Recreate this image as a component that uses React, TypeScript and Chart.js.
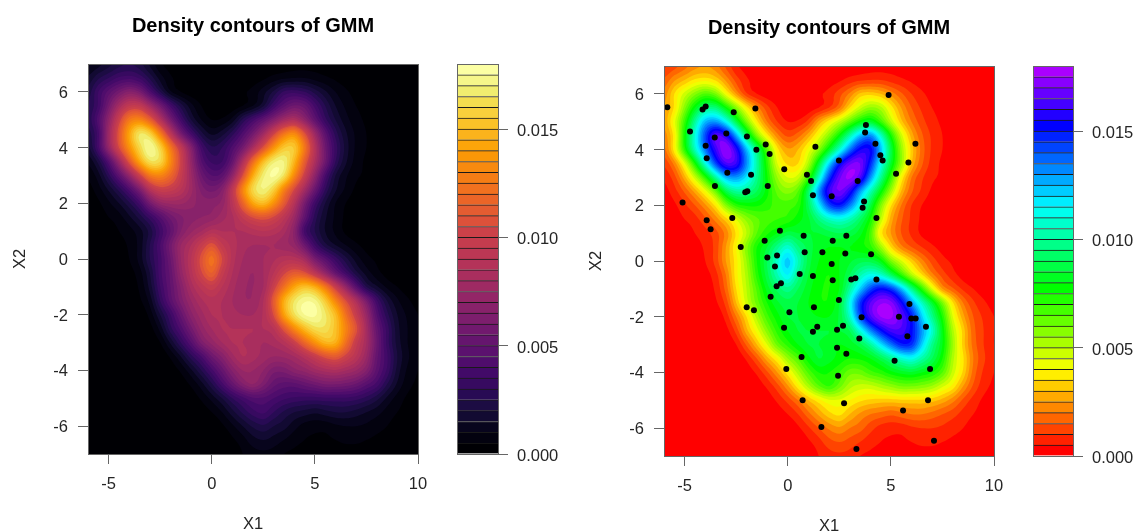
import React, { useEffect, useRef } from "react";
import { Chart, registerables } from "chart.js";

Chart.register(...registerables);

const chartTitle = "Density contours of GMM";
const xTicks = [-5, 0, 5, 10];
const yTicks = [-6, -4, -2, 0, 2, 4, 6];
const barTicks = [0, 0.005, 0.01, 0.015];
const bandStep = 0.0005;
const gridX = [-6, -5.5, -5, -4.5, -4, -3.5, -3, -2.5, -2, -1.5, -1, -0.5, 0, 0.5, 1, 1.5, 2, 2.5, 3, 3.5, 4, 4.5, 5, 5.5, 6, 6.5, 7, 7.5, 8, 8.5, 9, 9.5, 10];
const gridY = [7, 6.5, 6, 5.5, 5, 4.5, 4, 3.5, 3, 2.5, 2, 1.5, 1, 0.5, 0, -0.5, -1, -1.5, -2, -2.5, -3, -3.5, -4, -4.5, -5, -5.5, -6, -6.5, -7];

// density, in units of 0.0001, one row per gridY value
const densityRows = [
  [9,13,18,23,25,22,14,6,3,1,0,0,0,0,0,0,0,0,1,2,3,3,3,2,1,0,0,0,0,0,0,0,0],
  [16,24,30,36,38,34,24,13,6,3,1,0,0,0,1,1,2,4,7,9,10,10,8,6,4,2,1,0,0,0,0,0,0],
  [22,35,47,58,66,60,42,25,11,5,2,1,0,0,2,4,7,13,21,31,33,30,23,16,10,6,3,1,0,0,0,0,0],
  [25,36,58,80,95,95,78,58,38,23,12,5,1,0,2,5,10,19,35,48,56,52,38,25,15,9,5,3,1,0,0,0,0],
  [26,43,70,100,125,130,115,88,60,37,20,10,5,6,12,26,38,50,64,78,84,70,50,32,20,12,7,4,2,1,0,0,0],
  [22,38,76,110,142,165,158,128,92,60,38,22,14,18,28,42,58,78,102,124,132,108,76,48,28,16,9,5,2,1,0,0,0],
  [18,38,72,105,135,160,175,158,125,95,65,37,26,30,42,58,82,108,135,154,154,125,88,56,33,18,9,5,2,1,0,0,0],
  [11,22,44,75,110,142,163,160,132,102,72,45,34,35,52,84,120,150,168,170,148,114,84,56,30,16,8,4,2,1,0,0,0],
  [6,13,28,48,72,100,125,130,118,98,76,55,45,48,70,106,144,168,176,164,132,100,70,40,20,11,6,4,1,0,0,0,0],
  [3,8,16,27,42,62,88,100,98,90,77,63,58,65,92,130,160,170,158,130,105,80,54,30,16,9,4,2,1,0,0,0,0],
  [1,4,9,15,24,37,58,72,76,76,72,68,68,72,90,116,142,150,135,112,88,60,36,20,10,5,2,1,0,0,0,0,0],
  [0,2,5,8,14,22,33,45,57,64,68,70,72,78,84,96,106,110,104,92,76,50,28,16,9,4,2,1,0,0,0,0,0],
  [0,1,2,5,8,13,22,36,50,65,74,80,87,85,85,85,88,90,88,82,68,38,25,15,9,4,2,1,0,0,0,0,0],
  [0,0,1,3,6,12,25,40,58,75,85,98,108,96,88,82,80,80,80,77,72,55,35,22,15,10,6,3,1,0,0,0,0],
  [0,0,0,2,5,12,25,38,55,75,90,108,122,105,88,80,78,80,84,88,88,80,60,46,33,22,13,7,4,2,1,0,0],
  [0,0,0,1,3,8,20,38,52,72,88,104,115,98,85,78,75,80,90,103,112,108,92,72,52,36,22,13,7,3,1,0,0],
  [0,0,0,0,2,6,17,35,50,66,82,92,98,90,82,76,75,80,100,122,142,152,145,125,98,72,46,25,16,9,5,2,1],
  [0,0,0,0,1,4,12,30,47,62,75,84,88,85,80,76,76,85,112,145,165,174,172,155,130,106,84,60,36,20,11,6,3],
  [0,0,0,0,0,1,7,20,35,52,68,78,85,85,82,80,80,86,106,140,163,175,176,166,150,122,98,74,45,27,15,9,5],
  [0,0,0,0,0,0,3,12,28,42,58,72,80,85,85,85,85,85,90,110,132,150,162,163,152,130,108,80,52,33,17,10,5],
  [0,0,0,0,0,0,1,5,16,30,45,62,72,80,85,85,83,80,82,88,100,118,135,148,146,122,98,80,55,33,18,10,5],
  [0,0,0,0,0,0,0,1,6,15,28,40,55,66,78,85,82,78,75,76,80,88,98,108,112,102,90,75,52,36,20,11,6],
  [0,0,0,0,0,0,0,0,2,6,14,25,38,52,66,75,75,70,62,62,68,72,78,82,84,80,75,65,48,34,18,9,5],
  [0,0,0,0,0,0,0,0,0,2,6,13,24,38,52,64,70,62,52,48,48,52,56,60,60,58,54,46,38,25,14,7,4],
  [0,0,0,0,0,0,0,0,0,0,2,6,12,20,30,38,44,44,40,36,34,33,33,34,34,34,32,28,22,14,8,4,2],
  [0,0,0,0,0,0,0,0,0,0,0,2,5,10,18,26,33,36,30,24,20,18,16,18,20,20,18,15,12,8,5,3,1],
  [0,0,0,0,0,0,0,0,0,0,0,0,1,4,9,15,21,24,20,17,12,8,7,7,9,10,10,9,7,5,3,2,1],
  [0,0,0,0,0,0,0,0,0,0,0,0,0,1,4,8,13,15,13,10,7,5,4,4,5,6,6,5,4,3,2,1,1],
  [0,0,0,0,0,0,0,0,0,0,0,0,0,0,1,5,8,9,8,5,4,3,2,2,3,3,3,3,3,2,1,1,0],
];

const sampleX = [-5.84,-4.13,-3.98,-2.62,-1.57,4.89,-4.74,3.79,3.75,-3.54,-2.98,-1.98,-3.98,-1.07,-1.52,-0.88,1.34,4.25,6.19,-3.93,4.49,4.6,2.48,5.85,-0.17,-2.93,-1.78,0.93,5.25,1.13,3.39,-3.53,-0.97,-1.96,-2.06,1.22,2.13,3.7,3.63,-5.1,-3.93,-3.74,-2.69,4.3,-0.38,0.77,2.84,2.18,-1.12,-2.28,0.82,1.68,2.79,4.04,-0.52,-0.99,-0.62,2.13,0.58,1.22,2.18,3.08,3.28,4.3,-0.33,-0.54,-0.83,2.48,5.9,-1.99,-1.64,1.27,0.08,3.58,5.39,5.99,6.2,6.7,-0.18,1.43,1.22,2.39,2.68,5.8,3.47,2.39,2.84,0.67,5.18,-0.07,6.9,2.44,6.8,0.72,2.73,5.59,1.63,7.09,3.33];
const sampleY = [5.52,5.44,5.55,5.34,5.47,5.96,4.65,4.88,4.61,4.43,4.58,4.47,4.14,4.18,3.99,3.84,4.1,4.21,4.21,3.69,3.8,3.61,3.61,3.54,3.29,3.17,3.1,3.1,3.13,2.87,2.87,2.69,2.69,2.5,2.47,2.36,2.32,2.14,1.91,2.1,1.46,1.14,1.54,1.54,1.09,0.91,0.91,0.73,0.73,0.5,0.31,0.31,0.27,0.24,0.2,0.13,-0.2,-0.11,-0.47,-0.54,-0.69,-0.66,-0.62,-0.66,-0.8,-0.91,-1.28,-1.4,-1.54,-1.66,-1.77,-1.66,-1.84,-2.02,-2,-2.06,-2.06,-2.36,-2.4,-2.36,-2.54,-2.47,-2.32,-2.7,-2.78,-3.11,-3.33,-3.45,-3.58,-3.88,-3.88,-4.12,-5,-5,-5.11,-5.37,-5.96,-6.45,-6.75];

const infernoColors = ["#000004","#03020F","#08051D","#120A32","#1C0C43","#280B54","#370A60","#420A68","#4F0D6C","#5B116E","#65156E","#71196E","#7D1E6D","#88226A","#932667","#9E2A63","#A92E5E","#B43359","#BC3754","#C43C4E","#CB4149","#DD513A","#E45C31","#EB6527","#F1711F","#F57D15","#F88A0F","#FA9707","#FCA50A","#FBB31C","#FAC228","#F8D03C","#F4DD4F","#F1ED6F","#F6F68A","#FCFFA4"];
const rainbowColors = ["#FF0000","#FF2200","#FF4400","#FF6600","#FF8800","#FFAA00","#FFCC00","#FFEE00","#EEFF00","#CCFF00","#AAFF00","#88FF00","#66FF00","#44FF00","#22FF00","#00FF00","#00FF22","#00FF44","#00FF66","#00FF88","#00FFAA","#00FFCC","#00FFEE","#00EEFF","#00CCFF","#00AAFF","#0088FF","#0066FF","#0044FF","#0022FF","#0000FF","#2200FF","#4400FF","#6600FF","#8800FF","#AA00FF"];

const fontFamily = "'Liberation Sans', Arial, sans-serif";
const axisGray = "#666666";
const textColor = "#262626";
const tickFont = { family: fontFamily, size: 16.5, lineHeight: 1 };

const densityPoints = densityRows.flatMap((row, r) =>
  row.map((v, c) => ({ x: gridX[c], y: gridY[r], v: v / 10000 }))
);
const samplePoints = sampleX.map((x, i) => ({ x, y: sampleY[i] }));

function clipCell(corners: { x: number; y: number; v: number }[], level: number) {
  const out: { x: number; y: number }[] = [];
  for (let i = 0; i < corners.length; i++) {
    const a = corners[i];
    const b = corners[(i + 1) % corners.length];
    if (a.v >= level) out.push(a);
    if (a.v >= level !== b.v >= level) {
      const t = (level - a.v) / (b.v - a.v);
      out.push({ x: a.x + (b.x - a.x) * t, y: a.y + (b.y - a.y) * t });
    }
  }
  return out;
}

function cubicWeights(t: number) {
  return [
    0.5 * (-t + 2 * t * t - t * t * t),
    0.5 * (2 - 5 * t * t + 3 * t * t * t),
    0.5 * (t + 4 * t * t - 3 * t * t * t),
    0.5 * (-t * t + t * t * t),
  ];
}

// smooth drawing surface through the grid, like a contouring routine
function surface(chart: any, sub: number) {
  const { scales } = chart;
  const nx = gridX.length;
  const ny = gridY.length;
  const src = chart.data.datasets[0].data;
  const value = (r: number, c: number) =>
    src[Math.min(ny - 1, Math.max(0, r)) * nx + Math.min(nx - 1, Math.max(0, c))];
  const fx = (nx - 1) * sub + 1;
  const fy = (ny - 1) * sub + 1;
  const pts: { x: number; y: number; v: number }[] = [];
  for (let j = 0; j < fy; j++) {
    const r0 = Math.min(ny - 2, Math.floor(j / sub));
    const wr = cubicWeights(j / sub - r0);
    const yv = gridY[r0] + (gridY[r0 + 1] - gridY[r0]) * (j / sub - r0);
    for (let i = 0; i < fx; i++) {
      const c0 = Math.min(nx - 2, Math.floor(i / sub));
      const wc = cubicWeights(i / sub - c0);
      const xv = gridX[c0] + (gridX[c0 + 1] - gridX[c0]) * (i / sub - c0);
      let v = 0;
      for (let a = 0; a < 4; a++) {
        for (let b = 0; b < 4; b++) {
          v += wr[a] * wc[b] * value(r0 + a - 1, c0 + b - 1).v;
        }
      }
      pts.push({ x: scales.x.getPixelForValue(xv), y: scales.y.getPixelForValue(yv), v: Math.max(0, v) });
    }
  }
  return { pts, fx, fy };
}

const contourFill = {
  id: "contourFill",
  beforeDatasetsDraw(chart: any, _a: any, opts: any) {
    const { ctx, chartArea } = chart;
    const palette: string[] = opts.palette;
    const { pts, fx, fy } = surface(chart, 4);
    ctx.save();
    ctx.beginPath();
    ctx.rect(chartArea.left, chartArea.top, chartArea.width, chartArea.height);
    ctx.clip();
    ctx.fillStyle = palette[0];
    ctx.fillRect(chartArea.left, chartArea.top, chartArea.width, chartArea.height);
    for (let k = 1; k < palette.length; k++) {
      const level = k * bandStep;
      ctx.beginPath();
      for (let r = 0; r < fy - 1; r++) {
        for (let c = 0; c < fx - 1; c++) {
          const i = r * fx + c;
          const q = [pts[i], pts[i + 1], pts[i + fx + 1], pts[i + fx]];
          if (q[0].v < level && q[1].v < level && q[2].v < level && q[3].v < level) continue;
          const poly = clipCell(q, level);
          if (poly.length < 3) continue;
          ctx.moveTo(poly[0].x, poly[0].y);
          for (let j = 1; j < poly.length; j++) ctx.lineTo(poly[j].x, poly[j].y);
          ctx.closePath();
        }
      }
      ctx.fillStyle = palette[k];
      ctx.fill();
    }
    ctx.restore();
  },
};

const frameBox = {
  id: "frameBox",
  afterDraw(chart: any) {
    const { ctx, chartArea: a } = chart;
    ctx.save();
    ctx.strokeStyle = axisGray;
    ctx.lineWidth = 1;
    ctx.strokeRect(a.left + 0.5, a.top + 0.5, a.width, a.height);
    ctx.restore();
  },
};

function makePlot(canvas: HTMLCanvasElement, palette: string[], withSamples: boolean, area: any) {
  const datasets: any[] = [
    { label: "density", data: densityPoints, pointRadius: 0, showLine: false },
  ];
  if (withSamples) {
    datasets.push({
      label: "samples",
      data: samplePoints,
      pointRadius: 3,
      pointBorderWidth: 0,
      pointBackgroundColor: "#000000",
      showLine: false,
    });
  }
  return new Chart(canvas, {
    type: "scatter",
    data: { datasets },
    plugins: [contourFill, frameBox],
    options: {
      animation: false,
      responsive: false,
      layout: { autoPadding: false, padding: { left: 0, top: 0, right: area.right, bottom: 0 } },
      plugins: {
        legend: { display: false },
        tooltip: { enabled: false },
        contourFill: { palette },
        title: {
          display: true,
          text: chartTitle,
          fullSize: false,
          color: "#000000",
          font: { family: fontFamily, size: 20, weight: "bold", lineHeight: 1.2 },
          padding: { top: area.titleTop, bottom: area.top - 24 - area.titleTop },
        },
      },
      scales: {
        x: {
          type: "linear",
          min: -6,
          max: 10,
          afterBuildTicks: (ax: any) => { ax.ticks = xTicks.map((value) => ({ value })); },
          afterFit: (ax: any) => { ax.height = area.bottom; },
          grid: { drawOnChartArea: false, color: axisGray, tickLength: 10 },
          border: { color: axisGray },
          ticks: { color: textColor, font: tickFont, padding: 12, maxRotation: 0, callback: (v: any) => String(v) },
          title: { display: true, text: "X1", color: textColor, font: tickFont, padding: { top: 0, bottom: area.xTitlePad } },
        },
        y: {
          type: "linear",
          min: -7,
          max: 7,
          afterBuildTicks: (ax: any) => { ax.ticks = yTicks.map((value) => ({ value })); },
          afterFit: (ax: any) => { ax.width = 88; },
          grid: { drawOnChartArea: false, color: axisGray, tickLength: 10 },
          border: { color: axisGray },
          ticks: { color: textColor, font: tickFont, padding: 10, labelOffset: 1.5, callback: (v: any) => String(v) },
          title: { display: true, text: "X2", color: textColor, font: tickFont, padding: { top: 12, bottom: 0 } },
        },
      },
    },
  });
}

function makeBar(canvas: HTMLCanvasElement, palette: string[], area: any) {
  return new Chart(canvas, {
    type: "bar",
    data: {
      labels: ["density"],
      datasets: palette.map((color, i) => ({
        label: String(i),
        data: [bandStep],
        backgroundColor: color,
        borderColor: "#1a1a1a",
        borderWidth: { top: 1, bottom: 0, left: 0, right: 0 },
        barPercentage: 1,
        categoryPercentage: 1,
      })),
    },
    plugins: [frameBox],
    options: {
      animation: false,
      responsive: false,
      layout: { autoPadding: false, padding: { left: area.left, top: area.top, right: 0, bottom: area.bottom } },
      plugins: { legend: { display: false }, tooltip: { enabled: false } },
      scales: {
        x: { stacked: true, display: false },
        y: {
          stacked: true,
          position: "right",
          min: 0,
          max: bandStep * palette.length,
          afterBuildTicks: (ax: any) => { ax.ticks = barTicks.map((value) => ({ value })); },
          afterFit: (ax: any) => { ax.width = area.axis; },
          grid: { drawOnChartArea: false, color: axisGray, tickLength: 10 },
          border: { color: axisGray },
          ticks: { color: textColor, font: tickFont, padding: 9, labelOffset: 2.5, callback: (v: any) => Number(v).toFixed(3) },
        },
      },
    },
  });
}

export default function App() {
  const a = useRef<HTMLCanvasElement>(null);
  const b = useRef<HTMLCanvasElement>(null);
  const c = useRef<HTMLCanvasElement>(null);
  const d = useRef<HTMLCanvasElement>(null);
  useEffect(() => {
    const charts = [
      makePlot(a.current!, infernoColors, false, { right: 27, top: 64, bottom: 77, titleTop: 14, xTitlePad: -1.25 }),
      makeBar(b.current!, infernoColors, { left: 12, top: 64, bottom: 77, axis: 82 }),
      makePlot(c.current!, rainbowColors, true, { right: 27, top: 66, bottom: 75, titleTop: 16, xTitlePad: -3.25 }),
      makeBar(d.current!, rainbowColors, { left: 13, top: 66, bottom: 75, axis: 63 }),
    ];
    return () => charts.forEach((ch) => ch.destroy());
  }, []);
  const pos = (left: number): React.CSSProperties => ({ position: "absolute", left, top: 0 });
  return (
    <div style={{ position: "fixed", left: 0, top: 0, width: 1136, height: 531, background: "#fff", overflow: "hidden" }}>
      <canvas ref={a} width={445} height={531} style={pos(0)} />
      <canvas ref={b} width={135} height={531} style={pos(445)} />
      <canvas ref={c} width={445} height={531} style={pos(576)} />
      <canvas ref={d} width={116} height={531} style={pos(1020)} />
    </div>
  );
}
